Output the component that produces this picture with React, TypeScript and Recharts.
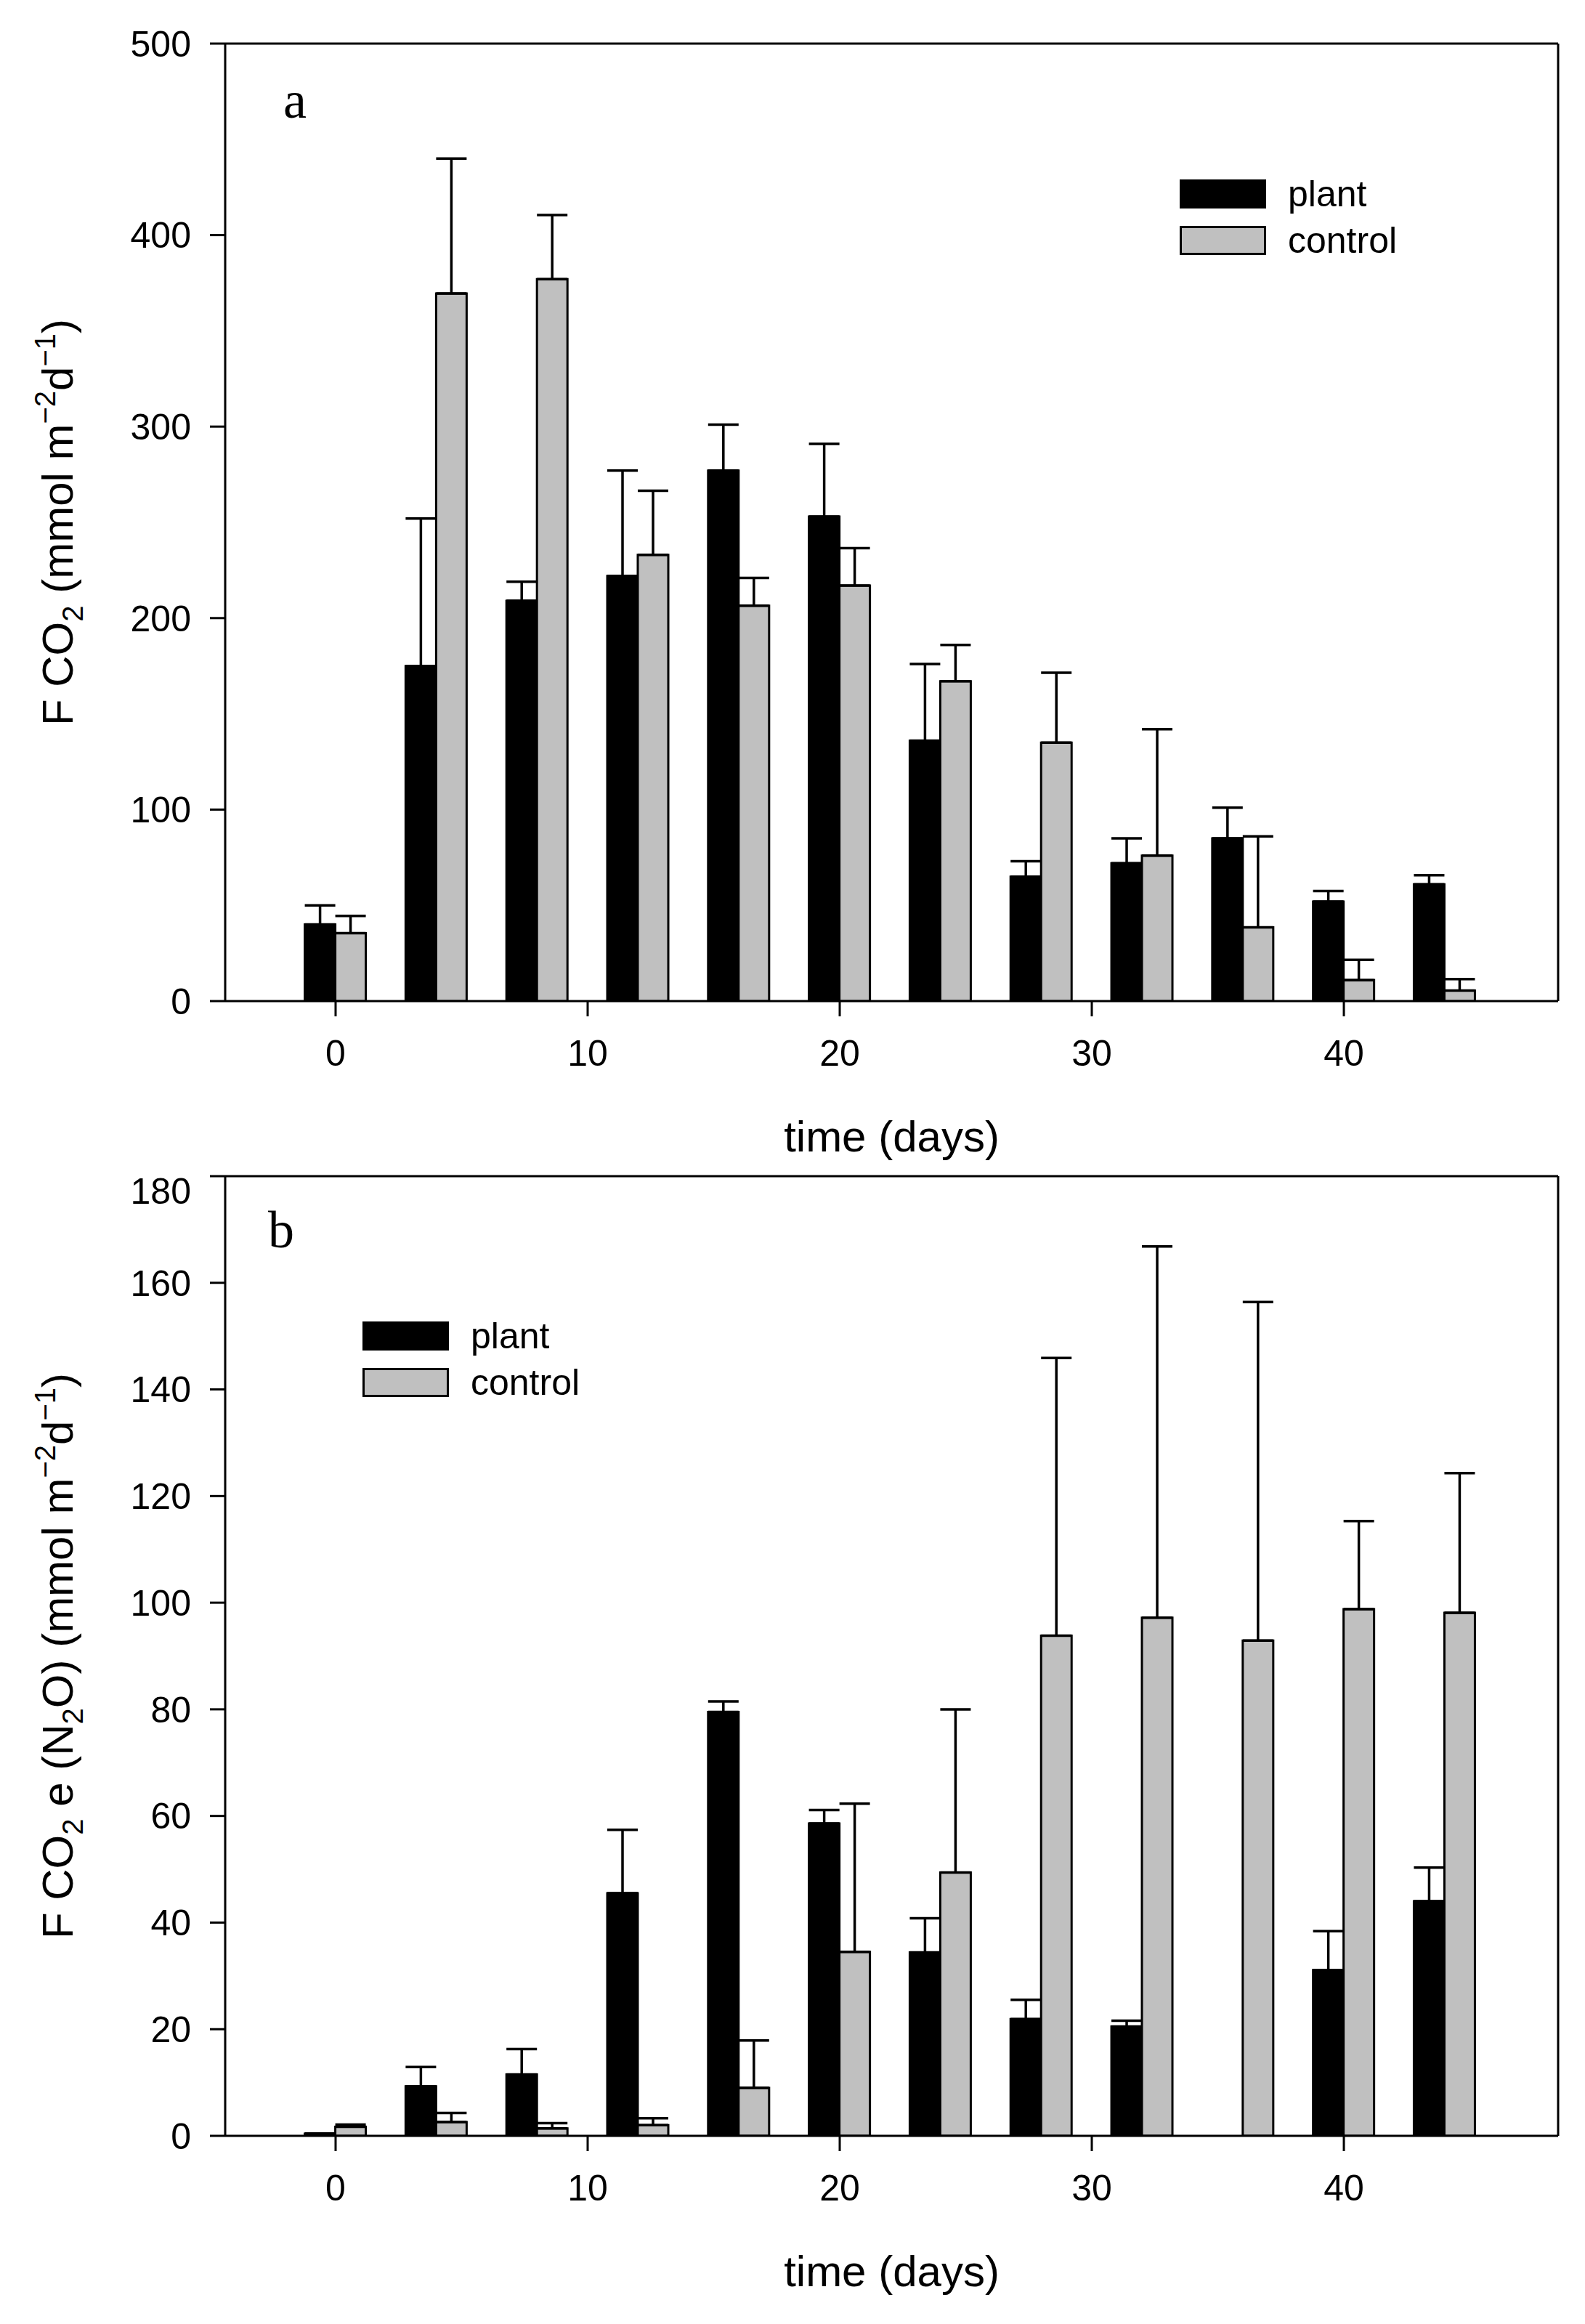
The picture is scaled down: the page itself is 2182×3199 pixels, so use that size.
import React from 'react';
import { BarChart, Bar, XAxis, YAxis, ErrorBar, Legend, ReferenceLine } from 'recharts';

// sampling days (group centres) and axis ticks
const days = [0, 4, 8, 12, 16, 20, 24, 28, 32, 36, 40, 44];
const dayTicks = [0, 10, 20, 30, 40];
const xDomain: [number, number] = [-4.38, 48.5];

// panel a: F CO2
const co2Plant = [40, 175, 209, 222, 277, 253, 136, 65, 72, 85, 52, 61];
const co2PlantErr = [10, 77, 10, 55, 24, 38, 40, 8, 13, 16, 5.5, 4.7];
const co2Control = [35.5, 369.5, 377, 233, 206.5, 217, 167, 135, 76, 38.5, 11, 5.5];
const co2ControlErr = [9, 70.5, 33.5, 33.5, 14.5, 19.5, 19, 36.5, 66, 47.5, 10.5, 6];
const co2Ticks = [0, 100, 200, 300, 400, 500];

// panel b: F CO2e (N2O)
const n2oPlant = [0.4, 9.3, 11.5, 45.5, 79.5, 58.6, 34.4, 21.9, 20.5, 0, 31.1, 44];
const n2oPlantErr = [0, 3.6, 4.8, 11.9, 2, 2.5, 6.4, 3.6, 1.1, 0, 7.3, 6.3];
const n2oControl = [1.7, 2.6, 1.4, 2.0, 9.0, 34.5, 49.4, 93.8, 97.2, 92.9, 98.8, 98.1];
const n2oControlErr = [0.4, 1.7, 1.0, 1.3, 8.9, 27.8, 30.6, 52.1, 69.6, 63.5, 16.5, 26.2];
const n2oTicks = [0, 20, 40, 60, 80, 100, 120, 140, 160, 180];

const seriesNames = ['plant', 'control'];
const seriesFills = ['#000000', '#c0c0c0'];

const SANS = '"Liberation Sans", Arial, Helvetica, sans-serif';
const SERIF = '"Liberation Serif", "Times New Roman", serif';

const W = 2182;
const PLOT_L = 310;
const PLOT_R = 2145;
const X_AXIS_H = 150;

const buildRows = (plant: number[], plantErr: number[], control: number[], controlErr: number[]) =>
  days.map((d, i) => ({
    day: d,
    plant: plant[i],
    plantErr: [0, plantErr[i]],
    control: control[i],
    controlErr: [0, controlErr[i]],
  }));

const axisStroke = { stroke: '#000', strokeWidth: 3 };
const tickStyle = { fill: '#000', fontSize: 50, fontFamily: SANS };

const LegendBox = () => (
  <div style={{ fontFamily: SANS, fontSize: 50, color: '#000' }}>
    {seriesNames.map((name, i) => (
      <div key={name} style={{ display: 'flex', alignItems: 'center', height: 64 }}>
        <div
          style={{
            width: 119,
            height: 40,
            boxSizing: 'border-box',
            border: '3px solid #000',
            background: seriesFills[i],
          }}
        />
        <span style={{ marginLeft: 30, lineHeight: '40px', whiteSpace: 'nowrap' }}>{name}</span>
      </div>
    ))}
  </div>
);

// title pieces: text plus baseline shift (positive = down)
type Seg = { t: string; shift?: number };

const units: Seg[] = [
  { t: ' (mmol m' },
  { t: '−2', shift: -24 },
  { t: 'd' },
  { t: '−1', shift: -24 },
  { t: ')' },
];
const co2Title: Seg[] = [{ t: 'F CO' }, { t: '2', shift: 14 }, ...units];
const n2oTitle: Seg[] = [
  { t: 'F CO' },
  { t: '2', shift: 14 },
  { t: ' e (N' },
  { t: '2', shift: 14 },
  { t: 'O)' },
  ...units,
];

const renderSegs = (segs: Seg[]) => {
  let prev = 0;
  return segs.map((s, i) => {
    const shift = s.shift || 0;
    const dy = shift - prev;
    prev = shift;
    return (
      <tspan key={i} dy={dy} fontSize={shift ? 40 : 60}>
        {s.t}
      </tspan>
    );
  });
};

interface PanelProps {
  letter: string;
  letterX: number;
  letterY: number;
  yTitle: Seg[];
  yTicks: number[];
  rows: ReturnType<typeof buildRows>;
  height: number;
  plotTop: number;
  plotBottom: number;
  legendLeft: number;
  legendTop: number;
}

const Panel = ({ letter, letterX, letterY, yTitle, yTicks, rows, height, plotTop, plotBottom, legendLeft, legendTop }: PanelProps) => {
  const yMax = yTicks[yTicks.length - 1];
  const cy = (plotTop + plotBottom) / 2;
  return (
    <BarChart
      width={W}
      height={height}
      data={rows}
      margin={{ top: plotTop, right: W - PLOT_R, bottom: height - plotBottom - X_AXIS_H, left: 0 }}
      barGap={0}
      barSize={42}
    >
      <XAxis
        dataKey="day"
        type="number"
        domain={xDomain}
        ticks={dayTicks}
        allowDataOverflow
        height={X_AXIS_H}
        tick={tickStyle}
        tickSize={21}
        tickMargin={32}
        tickLine={axisStroke}
        axisLine={axisStroke}
      />
      <YAxis
        domain={[0, yMax]}
        ticks={yTicks}
        allowDataOverflow
        width={PLOT_L}
        tick={tickStyle}
        tickSize={21}
        tickMargin={26}
        tickLine={axisStroke}
        axisLine={axisStroke}
      />
      <ReferenceLine y={yMax} stroke="#000" strokeWidth={3} />
      <ReferenceLine x={xDomain[1]} stroke="#000" strokeWidth={3} />
      <Bar dataKey="plant" name="plant" fill={seriesFills[0]} stroke="#000" strokeWidth={3} isAnimationActive={false}>
        <ErrorBar dataKey="plantErr" direction="y" width={21} stroke="#000" strokeWidth={3.5} />
      </Bar>
      <Bar dataKey="control" name="control" fill={seriesFills[1]} stroke="#000" strokeWidth={3} isAnimationActive={false}>
        <ErrorBar dataKey="controlErr" direction="y" width={21} stroke="#000" strokeWidth={3.5} />
      </Bar>
      <Legend
        content={() => <LegendBox />}
        layout="vertical"
        align="center"
        verticalAlign="middle"
        wrapperStyle={{ left: legendLeft, top: legendTop - 12, width: 'auto' }}
      />
      <text x={letterX} y={letterY} fontFamily={SERIF} fontSize={72} fill="#000">
        {letter}
      </text>
      <text x={(PLOT_L + PLOT_R) / 2} y={plotBottom + 207} textAnchor="middle" fontFamily={SANS} fontSize={60} fill="#000">
        time (days)
      </text>
      <text
        x={100}
        y={cy}
        transform={`rotate(-90 100 ${cy})`}
        textAnchor="middle"
        fontFamily={SANS}
        fontSize={60}
        fill="#000"
      >
        {renderSegs(yTitle)}
      </text>
    </BarChart>
  );
};

export default function App() {
  return (
    <div style={{ position: 'absolute', left: 0, top: 0, width: W, height: 3199, background: '#fff' }}>
      <Panel
        letter="a"
        letterX={390}
        letterY={162}
        yTitle={co2Title}
        yTicks={co2Ticks}
        rows={buildRows(co2Plant, co2PlantErr, co2Control, co2ControlErr)}
        height={1610}
        plotTop={60}
        plotBottom={1378}
        legendLeft={1624}
        legendTop={247}
      />
      <Panel
        letter="b"
        letterX={369}
        letterY={107}
        yTitle={n2oTitle}
        yTicks={n2oTicks}
        rows={buildRows(n2oPlant, n2oPlantErr, n2oControl, n2oControlErr)}
        height={1589}
        plotTop={9}
        plotBottom={1330}
        legendLeft={499}
        legendTop={209}
      />
    </div>
  );
}
